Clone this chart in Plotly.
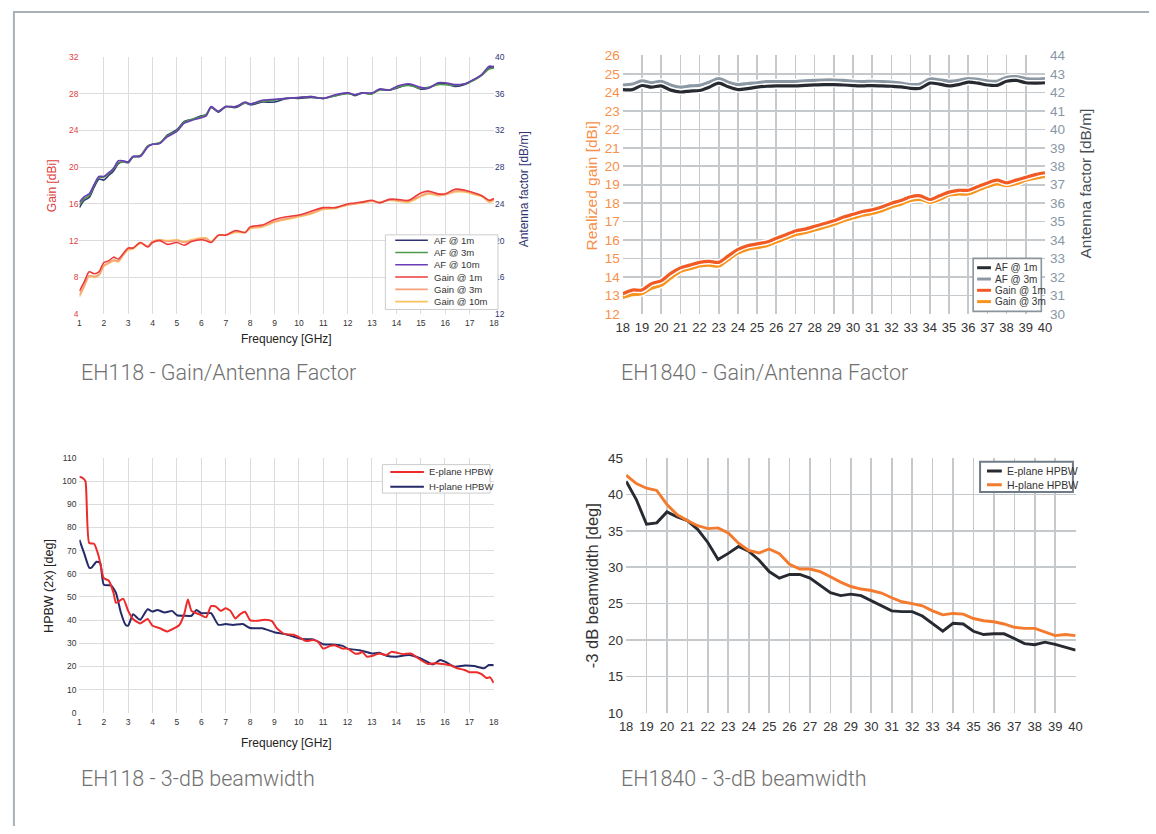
import plotly.graph_objects as go

W, H = 1156, 834

# ---------------- DATA ----------------
# EH118 gain / antenna factor (1-18 GHz)
f_eh118 = [1, 1.2, 1.4, 1.6, 1.8, 2, 2.2, 2.4, 2.6, 2.8,
           3, 3.2, 3.5, 3.8, 4, 4.3, 4.6, 5, 5.3, 5.6,
           6, 6.2, 6.4, 6.7, 7, 7.4, 7.8, 8, 8.5, 9,
           9.5, 10, 10.5, 11, 11.5, 12, 12.3, 12.6, 13, 13.3,
           13.7, 14, 14.5, 15, 15.3, 15.7, 16, 16.4, 16.8, 17.2,
           17.5, 17.8, 18]
af_1m_eh118 = [23.6, 24.4, 24.7, 25.8, 26.7, 26.6, 27.1, 27.6, 28.4, 28.6,
               28.5, 29.1, 29.2, 30.3, 30.5, 30.6, 31.5, 32.1, 33.0, 33.2,
               33.6, 33.7, 34.5, 34.0, 34.6, 34.5, 35.0, 34.8, 35.1, 35.1,
               35.5, 35.5, 35.6, 35.5, 35.8, 36.1, 35.8, 36.1, 36.0, 36.5,
               36.4, 36.6, 37.0, 36.5, 36.6, 37.1, 37.1, 36.8, 37.0, 37.6,
               38.1, 38.8, 39.0]
af_3m_eh118 = [23.9, 24.6, 24.9, 26.0, 26.9, 26.9, 27.3, 27.8, 28.5, 28.6,
               28.6, 29.1, 29.3, 30.3, 30.5, 30.7, 31.4, 32.0, 32.9, 33.2,
               33.5, 33.8, 34.5, 34.1, 34.6, 34.6, 35.0, 34.9, 35.2, 35.3,
               35.5, 35.6, 35.7, 35.5, 35.8, 36.0, 35.9, 36.1, 36.0, 36.4,
               36.4, 36.7, 36.9, 36.6, 36.7, 37.0, 37.0, 36.9, 37.1, 37.5,
               38.0, 38.7, 38.8]
af_10m_eh118 = [24.2, 24.8, 25.1, 26.1, 27.0, 27.0, 27.4, 27.9, 28.7, 28.7,
                28.6, 29.2, 29.2, 30.2, 30.5, 30.6, 31.3, 31.9, 32.8, 33.1,
                33.4, 33.6, 34.6, 34.1, 34.6, 34.6, 35.1, 34.9, 35.3, 35.4,
                35.5, 35.6, 35.7, 35.5, 35.9, 36.1, 35.9, 36.1, 36.1, 36.5,
                36.4, 36.8, 37.1, 36.7, 36.6, 37.2, 37.2, 37.0, 37.1, 37.6,
                38.1, 39.0, 38.9]
gain_1m_eh118 = [6.5, 7.5, 8.6, 8.4, 8.6, 9.6, 9.8, 10.2, 10.0, 10.6,
                 11.2, 11.2, 11.8, 11.3, 11.8, 12.0, 11.6, 11.8, 11.5, 11.9,
                 12.1, 12.0, 11.8, 12.6, 12.6, 13.1, 12.9, 13.5, 13.7, 14.3,
                 14.6, 14.8, 15.2, 15.6, 15.6, 16.0, 16.1, 16.2, 16.4, 16.1,
                 16.5, 16.5, 16.4, 17.2, 17.4, 17.1, 17.1, 17.6, 17.5, 17.2,
                 16.9, 16.4, 16.6]
gain_3m_eh118 = [6.1, 7.1, 8.2, 8.1, 8.3, 9.3, 9.6, 9.9, 9.8, 10.5,
                 11.1, 11.2, 11.8, 11.4, 11.9, 12.1, 11.9, 12.0, 11.8, 12.0,
                 12.2, 12.2, 11.9, 12.6, 12.6, 13.0, 12.9, 13.4, 13.6, 14.1,
                 14.4, 14.7, 15.0, 15.5, 15.6, 15.9, 16.0, 16.2, 16.3, 16.2,
                 16.4, 16.4, 16.3, 16.9, 17.2, 17.0, 17.0, 17.4, 17.4, 17.1,
                 16.9, 16.3, 16.5]
gain_10m_eh118 = [5.9, 7.0, 8.1, 8.0, 8.2, 9.2, 9.5, 9.8, 9.7, 10.4,
                  11.0, 11.1, 11.7, 11.4, 11.9, 12.1, 12.0, 12.1, 11.9, 12.1,
                  12.3, 12.3, 11.9, 12.6, 12.6, 12.9, 12.9, 13.3, 13.5, 14.0,
                  14.3, 14.6, 14.9, 15.4, 15.5, 15.9, 16.0, 16.1, 16.3, 16.2,
                  16.4, 16.3, 16.2, 16.8, 17.1, 16.9, 17.0, 17.3, 17.3, 17.0,
                  16.8, 16.2, 16.4]

# EH1840 gain / antenna factor (18-40 GHz)
f_eh1840 = [18, 18.5, 19, 19.5, 20, 20.5, 21, 21.5, 22, 22.5,
            23, 23.5, 24, 24.5, 25, 25.5, 26, 26.5, 27, 27.5,
            28, 28.5, 29, 29.5, 30, 30.5, 31, 31.5, 32, 32.5,
            33, 33.5, 34, 34.5, 35, 35.5, 36, 36.5, 37, 37.5,
            38, 38.5, 39, 39.5, 40]
gain_1m_eh1840 = [13.1, 13.3, 13.3, 13.65, 13.8, 14.2, 14.5, 14.65, 14.8, 14.85,
                  14.8, 15.15, 15.5, 15.7, 15.8, 15.9, 16.1, 16.3, 16.5, 16.6,
                  16.75, 16.9, 17.05, 17.25, 17.4, 17.55, 17.65, 17.8, 18.0, 18.15,
                  18.35, 18.4, 18.2, 18.4, 18.6, 18.7, 18.7, 18.9, 19.1, 19.25,
                  19.1, 19.25, 19.4, 19.55, 19.65]
gain_3m_eh1840 = [12.9, 13.05, 13.1, 13.4, 13.55, 13.95, 14.3, 14.45, 14.6, 14.65,
                  14.6, 14.95, 15.3, 15.5, 15.6, 15.7, 15.9, 16.1, 16.3, 16.4,
                  16.55, 16.7, 16.85, 17.05, 17.2, 17.35, 17.45, 17.6, 17.8, 17.95,
                  18.15, 18.2, 18.05, 18.2, 18.45, 18.5, 18.5, 18.7, 18.9, 19.05,
                  18.95, 19.05, 19.25, 19.35, 19.45]
af_1m_eh1840 = [42.15, 42.15, 42.37, 42.28, 42.35, 42.12, 42.02, 42.07, 42.1, 42.28,
                42.5, 42.3, 42.15, 42.2, 42.28, 42.33, 42.35, 42.35, 42.35, 42.38,
                42.4, 42.42, 42.42, 42.4, 42.37, 42.35, 42.37, 42.35, 42.33, 42.3,
                42.22, 42.22, 42.5, 42.45, 42.35, 42.42, 42.55, 42.5, 42.4, 42.38,
                42.6, 42.65, 42.52, 42.5, 42.52]
af_3m_eh1840 = [42.4, 42.45, 42.62, 42.52, 42.6, 42.4, 42.28, 42.35, 42.38, 42.55,
                42.75, 42.55, 42.42, 42.48, 42.52, 42.58, 42.58, 42.58, 42.58, 42.62,
                42.65, 42.67, 42.67, 42.65, 42.6, 42.58, 42.6, 42.58, 42.55, 42.5,
                42.42, 42.45, 42.72, 42.68, 42.6, 42.65, 42.75, 42.7, 42.62, 42.6,
                42.82, 42.85, 42.75, 42.72, 42.75]

# EH118 HPBW
f_e_eh118 = [1, 1.15, 1.25, 1.4, 1.6, 1.8, 2, 2.2, 2.4, 2.5,
             2.8, 3, 3.2, 3.5, 3.8, 4, 4.3, 4.6, 4.9, 5.1,
             5.3, 5.45, 5.6, 5.9, 6.2, 6.4, 6.6, 6.8, 7, 7.2,
             7.4, 7.6, 7.8, 8, 8.3, 8.6, 8.9, 9.1, 9.4, 9.8,
             10, 10.3, 10.6, 10.8, 11, 11.3, 11.5, 11.8, 12, 12.3,
             12.5, 12.6, 12.8, 13, 13.3, 13.6, 13.8, 14, 14.3, 14.6,
             15, 15.3, 15.6, 15.9, 16.2, 16.5, 16.8, 17, 17.3, 17.5,
             17.7, 17.85, 18]
e_hpbw_eh118 = [102, 101.3, 99.9, 73.3, 73, 67.3, 58.1, 57.1, 51.8, 47.5,
                49.2, 44, 40.5, 38.6, 40.5, 37.6, 36.5, 35.1, 36.5, 37.9,
                42.6, 48.9, 44, 42.6, 41.2, 46.1, 45.8, 44, 45.1, 44,
                40.7, 42.6, 43.6, 40, 39.7, 40.2, 39.6, 36.5, 34.1, 33.7,
                32.7, 31, 31.4, 30.6, 27.7, 28.9, 29.1, 27.7, 27.7, 25.6,
                25.7, 26.3, 24.2, 24.5, 25.6, 24.9, 26.3, 26, 25.3, 25.6,
                22.8, 21.1, 21.4, 21.1, 20.6, 19.2, 18.5, 17.5, 17.5, 16.7,
                15, 15.3, 12.9]
f_h_eh118 = [1, 1.2, 1.4, 1.5, 1.7, 1.85, 2, 2.3, 2.5, 2.7,
             2.9, 3, 3.2, 3.4, 3.5, 3.8, 4, 4.2, 4.5, 4.8,
             5, 5.3, 5.6, 5.8, 6, 6.4, 6.7, 7, 7.3, 7.7,
             8, 8.5, 9, 9.5, 10, 10.3, 10.6, 11, 11.5, 11.8,
             12, 12.5, 13, 13.3, 13.6, 14, 14.5, 15, 15.5, 15.8,
             16, 16.4, 16.8, 17.2, 17.6, 17.8, 18]
h_hpbw_eh118 = [74.7, 68.7, 62.7, 62.7, 65.2, 64.8, 55.3, 55, 51.8, 43.3,
                37.9, 37.6, 42.6, 40.7, 40.2, 44.7, 43.7, 44.4, 43.3, 44,
                42.1, 41.9, 41.9, 44.4, 43, 43, 38, 38.3, 37.9, 38.3,
                36.6, 36.5, 34.8, 33.8, 32.2, 31.7, 31.7, 29.6, 29.4, 28.9,
                27.7, 27, 25.6, 25.9, 24.6, 24.2, 24.9, 23.5, 20.9, 22.8,
                22.1, 19.9, 20.4, 20.2, 19.2, 20.6, 20.6]

# EH1840 -3 dB beamwidth
e_bw_eh1840 = [41.8, 39.3, 35.9, 36.1, 37.6, 36.9, 36.4, 35.2, 33.4, 31.05,
               31.9, 32.85, 32.2, 31.0, 29.4, 28.5, 29.0, 29.0, 28.5, 27.5,
               26.5, 26.1, 26.3, 26.1, 25.4, 24.7, 24.0, 23.9, 23.9, 23.3,
               22.2, 21.2, 22.3, 22.2, 21.2, 20.75, 20.85, 20.85, 20.2, 19.5,
               19.35, 19.7, 19.4, 18.95, 18.6]
h_bw_eh1840 = [42.65, 41.5, 40.85, 40.55, 38.6, 37.2, 36.4, 35.7, 35.3, 35.4,
               34.7, 33.3, 32.3, 31.95, 32.5, 31.85, 30.4, 29.75, 29.75, 29.4,
               28.7, 27.95, 27.35, 27.0, 26.8, 26.45, 25.8, 25.25, 25.0, 24.7,
               24.0, 23.45, 23.65, 23.55, 22.95, 22.65, 22.5, 22.2, 21.75, 21.6,
               21.6, 21.15, 20.6, 20.75, 20.6]

captions = ["EH118 - Gain/Antenna Factor", "EH1840 - Gain/Antenna Factor",
            "EH118 - 3-dB beamwidth", "EH1840 - 3-dB beamwidth"]

# ---------------- STYLE ----------------
SANS = "Liberation Sans, Arial, Helvetica, sans-serif"
NARROW = "Liberation Sans Narrow, Arial Narrow, Liberation Sans, Arial, sans-serif"
LIGHT = "Roboto, Lato, Liberation Sans, sans-serif"

c_af1, c_af3, c_af10 = "#2f3570", "#4e9a4a", "#6a3db5"
c_g1, c_g3, c_g10 = "#ea3d3a", "#f7a27c", "#f8c45c"
c_k, c_gray, c_or1, c_or3 = "#272b31", "#8c98a3", "#f15a24", "#f7941d"
c_red, c_navy = "#ee2b2b", "#252a68"
grid1 = "#dcdcdc"
grid2 = "#c6c9cc"


def px(x):
    return x / W


def py(y):
    return 1 - y / H


fig = go.Figure()

# ---- chart 1 ----
for name, ys, col in [("AF @ 1m", af_1m_eh118, c_af1), ("AF @ 3m", af_3m_eh118, c_af3),
                      ("AF @ 10m", af_10m_eh118, c_af10)]:
    fig.add_trace(go.Scatter(x=f_eh118, y=ys, name=name, mode="lines", xaxis="x", yaxis="y2",
                             line=dict(color=col, width=1.6, shape="spline", smoothing=0.8),
                             showlegend=False))
for name, ys, col in [("Gain @ 10m", gain_10m_eh118, c_g10), ("Gain @ 3m", gain_3m_eh118, c_g3),
                      ("Gain @ 1m", gain_1m_eh118, c_g1)]:
    fig.add_trace(go.Scatter(x=f_eh118, y=ys, name=name, mode="lines", xaxis="x", yaxis="y",
                             line=dict(color=col, width=1.6, shape="spline", smoothing=0.8),
                             showlegend=False))

# ---- chart 2 ----
for name, ys, col, ax in [("AF @ 3m", af_3m_eh1840, c_gray, "y4"), ("AF @ 1m", af_1m_eh1840, c_k, "y4"),
                          ("Gain @ 3m", gain_3m_eh1840, c_or3, "y3"), ("Gain @ 1m", gain_1m_eh1840, c_or1, "y3")]:
    fig.add_trace(go.Scatter(x=f_eh1840, y=ys, mode="lines", xaxis="x2", yaxis=ax, hoverinfo="skip",
                             line=dict(color="white", width=6, shape="spline", smoothing=0.8),
                             showlegend=False))
    fig.add_trace(go.Scatter(x=f_eh1840, y=ys, name=name, mode="lines", xaxis="x2", yaxis=ax,
                             line=dict(color=col, width=3.2, shape="spline", smoothing=0.8),
                             showlegend=False))

# ---- chart 3 ----
fig.add_trace(go.Scatter(x=f_h_eh118, y=h_hpbw_eh118, name="H-plane HPBW", mode="lines",
                         xaxis="x3", yaxis="y5",
                         line=dict(color=c_navy, width=2, shape="spline", smoothing=0.5), showlegend=False))
fig.add_trace(go.Scatter(x=f_e_eh118, y=e_hpbw_eh118, name="E-plane HPBW", mode="lines",
                         xaxis="x3", yaxis="y5",
                         line=dict(color=c_red, width=2, shape="spline", smoothing=0.5), showlegend=False))

# ---- chart 4 ----
fig.add_trace(go.Scatter(x=f_eh1840, y=e_bw_eh1840, name="E-plane HPBW", mode="lines",
                         xaxis="x4", yaxis="y6", line=dict(color=c_k, width=2.9), showlegend=False))
fig.add_trace(go.Scatter(x=f_eh1840, y=h_bw_eh1840, name="H-plane HPBW", mode="lines",
                         xaxis="x4", yaxis="y6", line=dict(color="#f47a2e", width=2.9), showlegend=False))


def small_axis(dom, rng, dtick, anchor, color="#333", size=8.5, grid=grid1, **kw):
    d = dict(domain=dom, range=rng, dtick=dtick, anchor=anchor, showgrid=True, gridcolor=grid,
             gridwidth=1, zeroline=False, showline=False, ticks="", fixedrange=True,
             tickfont=dict(family=SANS, size=size, color=color))
    d.update(kw)
    return d


c1x = [px(73.3), px(493)]
c1y = [py(312.7), py(51)]
c2x = [px(623.3), px(1050.7)]
c2y = [py(312.7), py(49.3)]
c3x = [px(73.3), px(492.7)]
c3y = [py(718.7), py(459.3)]
c4x = [px(626.7), px(1081.7)]
c4y = [py(718.7), py(459.3)]

layout = dict(
    width=W, height=H, margin=dict(l=0, r=0, t=0, b=0),
    paper_bgcolor="white", plot_bgcolor="white", showlegend=False,
    xaxis=small_axis(c1x, [1, 18], 1, "y", ticklabelstandoff=2),
    yaxis=small_axis(c1y, [4, 32], 4, "x", color="#e0403c"),
    yaxis2=small_axis(c1y, [12, 40], 4, "x", color="#2f3570", overlaying="y", side="right", showgrid=False),
    xaxis2=small_axis(c2x, [18, 40], 1, "y3", color="#333", size=13, grid=grid2, gridwidth=1.6,
                      ticklabelstandoff=4),
    yaxis3=small_axis(c2y, [12, 26], 1, "x2", color="#f7904a", size=13.5, grid=grid2, gridwidth=1.6,
                      ticklabelstandoff=2),
    yaxis4=small_axis(c2y, [30, 44], 1, "x2", color="#8797a6", size=13.5, overlaying="y3", side="right",
                      showgrid=False, ticklabelstandoff=4),
    xaxis3=small_axis(c3x, [1, 18], 1, "y5", ticklabelstandoff=3),
    yaxis5=small_axis(c3y, [0, 110], 10, "x3", ticklabelstandoff=2),
    xaxis4=small_axis(c4x, [18, 40], 1, "y6", color="#333", size=13, grid=grid2, gridwidth=1.6,
                      ticklabelstandoff=4),
    yaxis6=small_axis(c4y, [10, 45], 5, "x4", color="#333", size=13.5, grid=grid2, gridwidth=1.6,
                      ticklabelstandoff=2),
)
for k in ["xaxis2", "yaxis3", "yaxis4", "xaxis4", "yaxis6"]:
    layout[k]["tickfont"]["family"] = NARROW
fig.update_layout(**layout)

ann = []
shapes = []


def text(x, y, s, size, color, family=SANS, angle=0, xanchor="center", weight=None):
    f = dict(family=family, size=size, color=color)
    if weight:
        f["weight"] = weight
    ann.append(dict(x=px(x), y=py(y), xref="paper", yref="paper", text=s, showarrow=False,
                    textangle=angle, xanchor=xanchor, yanchor="middle", font=f))


# axis titles
text(283, 338, "Frequency [GHz]", 12, "#222")
text(45, 182, "Gain [dBi]", 12, "#e0403c", angle=-90)
text(523, 186, "Antenna factor [dB/m]", 12, "#2f3570", angle=-90)
text(592, 182, "Realized gain [dBi]", 15.5, "#f7904a", angle=-90)
text(1092, 180, "Antenna factor [dB/m]", 15.5, "#4a4f56", angle=-90)
text(283, 749, "Frequency [GHz]", 12, "#222")
text(43, 589, "HPBW (2x) [deg]", 12.5, "#222", angle=-90)
text(593, 589, "-3 dB beamwidth [deg]", 16.5, "#333", angle=-90)

# captions
text(73, 372, captions[0], 21.5, "#707070", family=LIGHT, xanchor="left", weight=300)
text(620, 372, captions[1], 21.5, "#707070", family=LIGHT, xanchor="left", weight=300)
text(73, 786, captions[2], 21.5, "#707070", family=LIGHT, xanchor="left", weight=300)
text(620, 786, captions[3], 21.5, "#707070", family=LIGHT, xanchor="left", weight=300)


def legend(box, rows, lx0, lx1, tx, entries, size, family, border, bw, lw):
    x0, y0, x1, y1 = box
    shapes.append(dict(type="rect", xref="paper", yref="paper", x0=px(x0), x1=px(x1), y0=py(y1), y1=py(y0),
                       line=dict(color=border, width=bw), fillcolor="white", layer="above"))
    for yy, (name, col) in zip(rows, entries):
        shapes.append(dict(type="line", xref="paper", yref="paper", x0=px(lx0), x1=px(lx1), y0=py(yy), y1=py(yy),
                           line=dict(color=col, width=lw), layer="above"))
        text(tx, yy, name, size, "#333", family=family, xanchor="left")


legend((383, 232, 497, 308), [237.5, 250, 262.5, 275, 287.5, 300], 393, 426, 430,
       [("AF @ 1m", c_af1), ("AF @ 3m", c_af3), ("AF @ 10m", c_af10),
        ("Gain @ 1m", c_g1), ("Gain @ 3m", c_g3), ("Gain @ 10m", c_g10)],
       9.5, SANS, "#cccccc", 1, 1.6)
legend((978, 256, 1047, 310), [265.5, 277, 288.5, 300], 982, 996, 998,
       [("AF @ 1m", c_k), ("AF @ 3m", c_gray), ("Gain @ 1m", c_or1), ("Gain @ 3m", c_or3)],
       10, NARROW, "#8a949c", 1.6, 3)
legend((380, 466, 489, 495), [473.5, 488.5], 388, 422, 425,
       [("E-plane HPBW", c_red), ("H-plane HPBW", c_navy)],
       9.5, SANS, "#cccccc", 1, 2)
legend((985, 463, 1079, 494), [472.5, 486.5], 992, 1007, 1010,
       [("E-plane HPBW", c_k), ("H-plane HPBW", "#f47a2e")],
       10.5, NARROW, "#6f7c88", 2, 3)

# outer frame
shapes.append(dict(type="path", xref="paper", yref="paper",
                   path=f"M {px(7)} {py(834)} L {px(7)} {py(5)} L {px(1156)} {py(5)}",
                   line=dict(color="#a8b0b8", width=2)))

fig.update_layout(annotations=ann, shapes=shapes)
fig.write_html(
    "out.html",
    config={"displayModeBar": False, "staticPlot": True},
    post_script=(
        "document.documentElement.style.margin='0';document.documentElement.style.padding='0';"
        "document.documentElement.style.overflow='hidden';"
        "document.body.style.margin='0';document.body.style.padding='0';document.body.style.overflow='hidden';"
        "var gd=document.getElementById('{plot_id}');gd.style.position='fixed';gd.style.left='0px';"
        "gd.style.top='0px';"
    ),
)
